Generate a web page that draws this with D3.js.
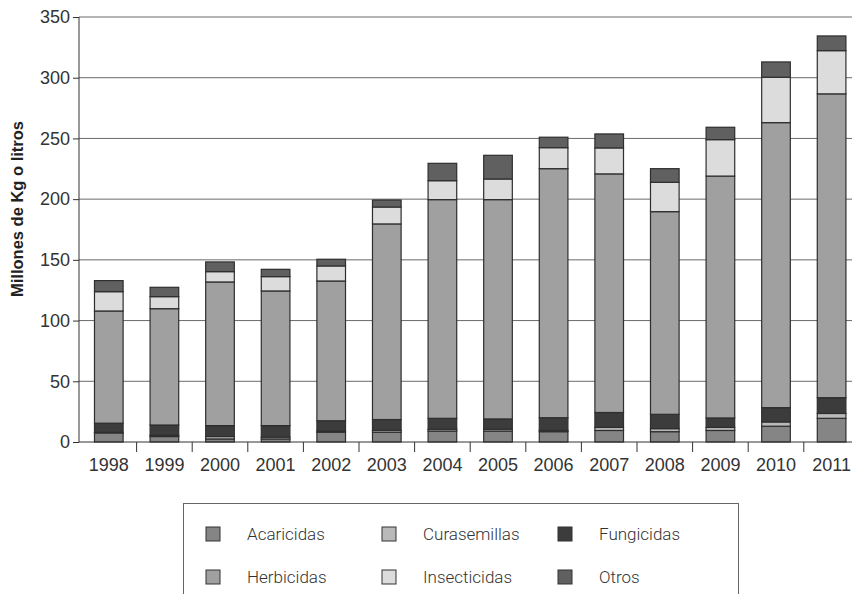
<!DOCTYPE html>
<html>
<head>
<meta charset="utf-8">
<script src="https://cdn.jsdelivr.net/npm/d3@7"></script>
<style>
  body { margin: 0; background: #fff; }
  svg { display: block; font-family: Roboto, "Open Sans", sans-serif; }
</style>
</head>
<body>
<script>
const years = ["1998","1999","2000","2001","2002","2003","2004","2005","2006","2007","2008","2009","2010","2011"];
const acaricidas   = [7.5, 4.5, 2.5, 2.5, 8, 8, 9, 9, 8.5, 9.5, 8.5, 9.5, 13, 19.5];
const curasemillas = [0.5, 1, 2, 1.5, 1, 1.5, 1.5, 1.5, 1, 2.5, 2.5, 2.5, 3.5, 4];
const fungicidas   = [7.5, 8.5, 9, 9.5, 8.5, 9, 9, 8.5, 10.5, 12.3, 11.8, 7.8, 11.8, 13];
const herbicidas   = [92.4, 95.8, 118.3, 110.9, 115.1, 161.1, 180.1, 180.6, 205.1, 196.5, 166.9, 199.2, 234.7, 250.2];
const insecticidas = [15.9, 9.9, 8.5, 11.8, 12.4, 13.9, 15.6, 17, 17.3, 21.4, 24.2, 30, 37.4, 35.6];
const otros        = [9.1, 7.7, 8, 6, 5.5, 5.8, 14.3, 19.5, 8.6, 11.5, 11.2, 10.2, 12.6, 12.1];
const yTicks = [0, 50, 100, 150, 200, 250, 300, 350];

const series = ["Acaricidas","Curasemillas","Fungicidas","Herbicidas","Insecticidas","Otros"];
const colors = ["#858585","#b9b9b9","#3c3c3c","#a0a0a0","#dcdcdc","#606060"];
const values = [acaricidas, curasemillas, fungicidas, herbicidas, insecticidas, otros];

const table = years.map((y, i) => {
  const row = { year: y };
  series.forEach((s, j) => row[s] = values[j][i]);
  return row;
});

const W = 852, H = 594;
const svg = d3.select("body").append("svg").attr("width", W).attr("height", H);

const x = d3.scaleBand().domain(years).range([81, 859.4]).paddingInner(0.485).paddingOuter(0.2425);
const y = d3.scaleLinear().domain([0, 350]).range([442, 17]);
const color = d3.scaleOrdinal().domain(series).range(colors);

// gridlines
svg.append("g").selectAll("line").data(yTicks.slice(1)).enter().append("line")
  .attr("x1", 79).attr("x2", W).attr("y1", d => y(d)).attr("y2", d => y(d))
  .attr("stroke", "#6a6a6a").attr("stroke-width", 1);

// bars
const stacked = d3.stack().keys(series)(table);
svg.append("g").selectAll("g").data(stacked).enter().append("g")
  .attr("fill", d => color(d.key))
  .selectAll("rect").data(d => d).enter().append("rect")
  .attr("x", d => x(d.data.year))
  .attr("y", d => y(d[1]))
  .attr("width", x.bandwidth())
  .attr("height", d => y(d[0]) - y(d[1]))
  .attr("stroke", "#2e2e2e").attr("stroke-width", 1.2);

// y axis
const yAxis = d3.axisLeft(y).tickValues(yTicks).tickSize(6).tickPadding(3);
const gy = svg.append("g").attr("transform", "translate(79,0)").call(yAxis);
gy.select(".domain").attr("stroke", "#333").attr("d", "M0," + y(350) + "V" + y(0));
gy.selectAll(".tick line").attr("stroke", "#333");
gy.selectAll("text").attr("font-size", 18).attr("font-weight", 300).attr("fill", "#333");

// x axis
const gx = svg.append("g").attr("transform", "translate(0,442)")
  .call(d3.axisBottom(x).tickSize(0).tickPadding(16));
gx.select(".domain").attr("stroke", "#333").attr("d", "M79,0H" + W);
gx.selectAll("text").attr("font-size", 18).attr("font-weight", 300).attr("fill", "#333");
const step = x.step();
gx.selectAll(".sep").data(years.slice(1)).enter().append("line")
  .attr("x1", d => x(d) - (step - x.bandwidth()) / 2)
  .attr("x2", d => x(d) - (step - x.bandwidth()) / 2)
  .attr("y1", 0).attr("y2", 10).attr("stroke", "#333");

// y label
svg.append("text")
  .attr("transform", "translate(23,209) rotate(-90)")
  .attr("text-anchor", "middle")
  .attr("font-family", "'Liberation Sans', Arial, sans-serif")
  .attr("font-weight", "bold").attr("font-size", 16.5).attr("fill", "#222")
  .text("Millones de Kg o litros");

// legend
svg.append("rect").attr("x", 183.5).attr("y", 503.5).attr("width", 555).attr("height", 120)
  .attr("fill", "none").attr("stroke", "#666");
const legCols = [206, 382, 558];
const legRows = [534, 577];
const leg = svg.append("g").selectAll("g").data(series).enter().append("g")
  .attr("transform", (d, i) => "translate(" + legCols[i % 3] + "," + legRows[Math.floor(i / 3)] + ")");
leg.append("rect").attr("x", 0).attr("y", -7).attr("width", 14).attr("height", 14)
  .attr("fill", d => color(d)).attr("stroke", "#333").attr("stroke-width", 1);
leg.append("text").attr("x", 41).attr("y", 0).attr("dy", "0.35em")
  .attr("font-size", 17).attr("font-weight", 300).attr("fill", "#333").text(d => d);
</script>
</body>
</html>
